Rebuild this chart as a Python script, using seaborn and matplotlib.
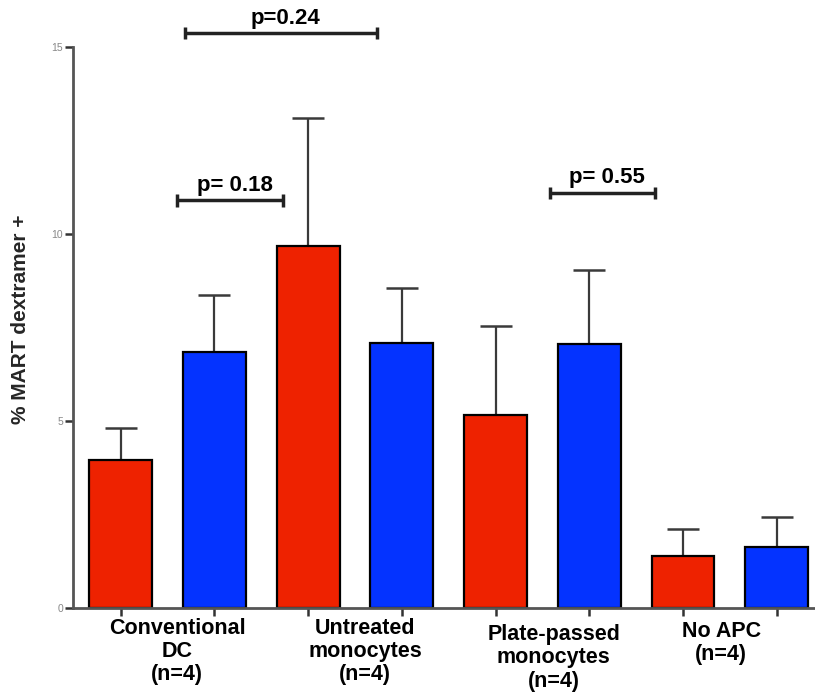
import numpy as np
import pandas as pd
import matplotlib
matplotlib.use("Agg")
import matplotlib.pyplot as plt
import seaborn as sns

# ---- data ----
bar_ids = ["CDC_r", "CDC_b", "UM_r", "UM_b", "PPM_r", "PPM_b", "NA_r", "NA_b"]
conditions = ["red", "blue", "red", "blue", "red", "blue", "red", "blue"]
means = [3.97, 6.86, 9.68, 7.09, 5.17, 7.07, 1.40, 1.65]
upper_err = [0.84, 1.51, 3.41, 1.47, 2.38, 1.97, 0.73, 0.80]
group_labels = ["Conventional\nDC\n(n=4)", "Untreated\nmonocytes\n(n=4)",
                "Plate-passed\nmonocytes\n(n=4)", "No APC\n(n=4)"]
group_label_x = [0.60, 2.61, 4.62, 6.41]
group_label_y = [-0.25, -0.25, -0.42, -0.33]
brackets = [(0.68, 2.74, 15.37, "p=0.24"), (0.60, 1.73, 10.9, "p= 0.18"),
            (4.58, 5.70, 11.1, "p= 0.55")]
y_ticks = [0, 5, 10, 15]

sns.set_style("white")
plt.rcParams['font.family'] = ['Liberation Sans', 'DejaVu Sans']

df = pd.DataFrame({"bar": bar_ids, "value": means, "cond": conditions})
palette = {"red": "#EE2200", "blue": "#0433FF"}

fig = plt.figure(figsize=(8.15, 7.0), dpi=100)
ax = fig.add_axes([0.0896, 0.131, 0.9104, 0.802])

sns.barplot(data=df, x="bar", y="value", hue="cond", palette=palette,
            order=bar_ids, dodge=False, width=0.67, edgecolor="black",
            linewidth=1.6, errorbar=None, legend=False, saturation=1,
            ax=ax, zorder=2)

xpos = np.arange(len(bar_ids))
ax.errorbar(xpos, means, yerr=[np.zeros(len(means)), upper_err], fmt="none",
            ecolor="#3a3a3a", elinewidth=1.6, capsize=11.5, capthick=1.8, zorder=1)

ax.set_xlim(-0.51, 7.41)
ax.set_ylim(0, 15)
ax.set_yticks(y_ticks)
ax.set_yticklabels([str(t) for t in y_ticks], fontsize=7.5, color="#888888")
ax.set_xticks(xpos)
ax.set_xticklabels([""] * len(xpos))
ax.set_xlabel("")
ax.set_ylabel("% MART dextramer +", fontsize=15, fontweight="bold")
ax.yaxis.set_label_coords(-0.058, 0.515)

for side in ["top", "right"]:
    ax.spines[side].set_visible(False)
for side in ["left", "bottom"]:
    ax.spines[side].set_color("#555555")
    ax.spines[side].set_linewidth(2)
ax.tick_params(axis="both", direction="out", length=6, width=1.8, color="#333333",
               bottom=True, left=True, pad=1)

for lx, ly, lab in zip(group_label_x, group_label_y, group_labels):
    ax.text(lx, ly, lab, ha="center", va="top", fontsize=15.5, fontweight="bold",
            linespacing=1.15, clip_on=False, color="black")

for x1, x2, yb, txt in brackets:
    ax.plot([x1, x2], [yb, yb], color="#222222", lw=2.5, clip_on=False,
            solid_capstyle="butt")
    for xe in (x1, x2):
        ax.plot([xe, xe], [yb - 0.17, yb + 0.17], color="#222222", lw=2.5,
                clip_on=False, solid_capstyle="butt")
    ax.text((x1 + x2) / 2 + 0.05, yb + 0.12, txt, ha="center", va="bottom",
            fontsize=16, fontweight="bold", clip_on=False, color="black")

fig.savefig("out.png", dpi=100)
